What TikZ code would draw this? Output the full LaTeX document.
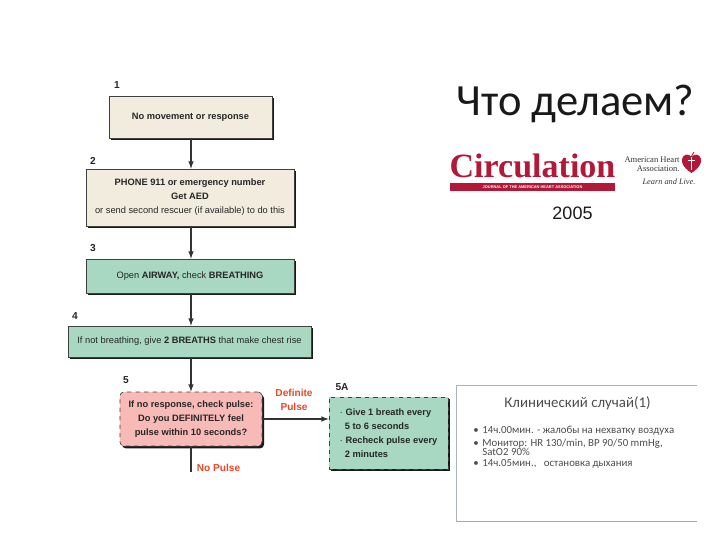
\documentclass[tikz,border=0pt]{standalone}
\usepackage{fontspec}
\setmainfont{Liberation Sans}
\newfontfamily\titlefont{Carlito}
\newfontfamily\logofont{Liberation Serif}
\usetikzlibrary{shadows}
\definecolor{creamfill}{RGB}{241,236,222}
\definecolor{greenfill}{RGB}{168,216,194}
\definecolor{pinkfill}{RGB}{248,186,182}
\definecolor{labelred}{RGB}{232,72,40}
\definecolor{logored}{RGB}{178,24,56}
\definecolor{insetline}{RGB}{170,178,186}
\newcommand{\insetbullet}{\makebox[0.225cm][l]{\textbullet}}
\tikzset{
	flowbox/.style={draw=black!75, line width=0.5pt, align=center, inner sep=0pt, text=black!85,
		font=\fontsize{6.6}{10}\selectfont,
		drop shadow={shadow xshift=0.05cm, shadow yshift=-0.06cm, fill=black!90, opacity=1}},
	stepnum/.style={font=\fontsize{7.2}{8}\selectfont\bfseries, text=black!85, inner sep=0pt},
	flowline/.style={line width=0.8pt, color=black!80, -latex},
	redlabel/.style={font=\fontsize{7.2}{10}\selectfont\bfseries, text=labelred, align=center, inner sep=0pt},
	insettext/.style={font=\titlefont\fontsize{7.7}{6.6}\selectfont, text=black!70, anchor=west, inner sep=0pt, align=left}
}
\begin{document}
\begin{tikzpicture}[x=0.025cm, y=-0.025cm]
	%%%%% START %%%%%
	\useasboundingbox (0, 0) rectangle (720, 540);
	
	\node[flowbox, fill=creamfill, minimum width=4.075cm, minimum height=1.05cm] (movement) at (190.5, 117) {\textbf{No movement or response}};
	\node[flowbox, fill=creamfill, minimum width=5.2cm, minimum height=1.425cm] (phone) at (190, 197.5) {\textbf{PHONE 911 or emergency number}\\\textbf{Get AED}\\or send second rescuer (if available) to do this};
	\node[flowbox, fill=greenfill, minimum width=5.2cm, minimum height=0.85cm] (airway) at (190, 276) {Open \textbf{AIRWAY,} check \textbf{BREATHING}};
	\node[flowbox, fill=greenfill, minimum width=6.075cm, minimum height=0.775cm] (breaths) at (189.5, 341.5) {If not breathing, give \textbf{2 BREATHS} that make chest rise};
	\node[flowbox, fill=pinkfill, dashed, rounded corners=0.1cm, minimum width=3.55cm, minimum height=1.35cm] (pulse) at (191, 419) {\textbf{If no response, check pulse:}\\\textbf{Do you DEFINITELY feel}\\\textbf{pulse within 10 seconds?}};
	\node[flowbox, fill=greenfill, dashed, align=left, minimum width=2.975cm, minimum height=1.8cm] (breathbox) at (388.5, 433) {\textbf{$\cdot$ Give 1 breath every}\\\textbf{\ \ 5 to 6 seconds}\\\textbf{$\cdot$ Recheck pulse every}\\\textbf{\ \ 2 minutes}};
	
	\node[stepnum] (num1) at (117, 85.5) {1};
	\node[stepnum] (num2) at (93, 160.5) {2};
	\node[stepnum] (num3) at (93, 248) {3};
	\node[stepnum] (num4) at (75, 316.5) {4};
	\node[stepnum] (num5) at (126, 380) {5};
	\node[stepnum] (num5a) at (342, 387.5) {5A};
	
	\coordinate (nopulseend) at (191, 472);
	\draw[flowline] (movement.south -| pulse.north) -- (phone.north -| pulse.north);
	\draw[flowline] (phone.south -| pulse.north) -- (airway.north -| pulse.north);
	\draw[flowline] (airway.south -| pulse.north) -- (breaths.north -| pulse.north);
	\draw[flowline] (breaths.south -| pulse.north) -- (pulse.north);
	\draw[flowline] (pulse.east) -- (pulse.east -| breathbox.west);
	\draw[line width=0.8pt, color=black!80] (pulse.south) -- (nopulseend);
	
	\node[redlabel] (definite) at (294, 400) {Definite\\Pulse};
	\node[redlabel] (nopulse) at (218.5, 468) {No Pulse};
	
	\node[font=\titlefont\fontsize{31.7}{34}\selectfont, text=black!90, inner sep=0pt] (title) at (575.5, 104) {Что делаем?};
	
	\node[font=\logofont\fontsize{24.2}{26}\selectfont\bfseries, text=logored, inner sep=0pt] (circulation) at (532.5, 166) {Circulation};
	\node[fill=logored, minimum width=4.125cm, minimum height=0.2cm, inner sep=0pt, text=white, font=\fontsize{2.8}{3}\selectfont\bfseries] (journal) at (532.5, 187) {JOURNAL OF THE AMERICAN HEART ASSOCIATION};
	\node[font=\logofont\fontsize{6.1}{6.4}\selectfont, align=right, inner sep=0pt, text=black!80] (aha) at (652, 164.5) {American Heart\\Association.};
	\node[font=\logofont\fontsize{5.9}{6.4}\selectfont\itshape, inner sep=0pt, text=black!80] (learn) at (669, 182) {Learn and Live.};
	\draw[fill=logored, draw=none] (691.5, 173) .. controls (684, 168) and (681, 163) .. (682, 159) .. controls (683, 154) and (689, 153) .. (691.5, 157) .. controls (694, 153) and (700, 154) .. (701, 159) .. controls (702, 163) and (699, 168) .. (691.5, 173);
	\draw[white, line width=0.5pt] (691, 157) -- (691, 170) (687.5, 160) -- (695, 160);
	\draw[logored, line width=0.6pt] (691, 157) -- (694, 152);
	
	\node[font=\fontsize{12.8}{14}\selectfont, text=black!90, inner sep=0pt] (year) at (572.5, 213) {2005};
	
	\draw[insetline, line width=0.7pt] (456.5, 522) -- (456.5, 385) -- (697, 385);
	\draw[black!35, line width=0.5pt] (456.5, 521.5) -- (697, 521.5);
	\node[font=\titlefont\fontsize{10.6}{12}\selectfont, text=black!70, inner sep=0pt] (insettitle) at (577.5, 403) {Клинический случай(1)};
	\node[insettext] (inset1) at (473, 431) {\insetbullet 14ч.00мин. - жалобы на нехватку воздуха};
	\node[insettext] (inset2) at (473, 447.5) {\insetbullet Монитор: HR 130/min, BP 90/50 mmHg,\\\hspace*{0.225cm}SatO2 90\%};
	\node[insettext] (inset3) at (473, 464) {\insetbullet 14ч.05мин.,\ \ \ остановка дыхания};
	
	%%%%% END %%%%%
\end{tikzpicture}
\end{document}
